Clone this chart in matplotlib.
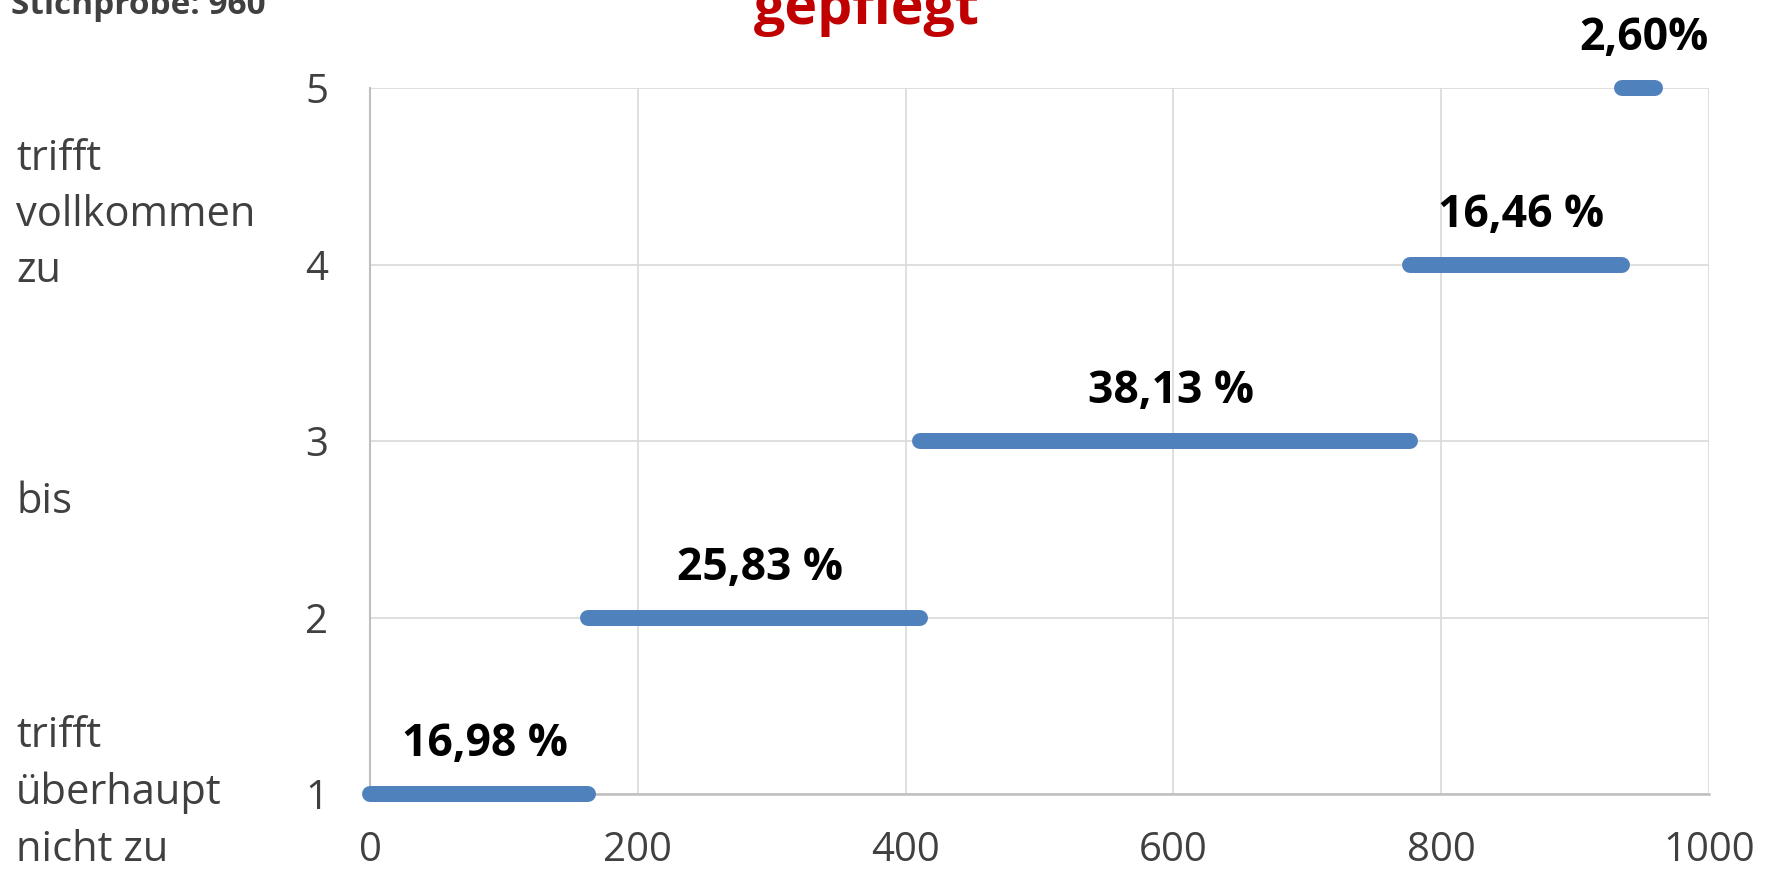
import matplotlib
matplotlib.use("Agg")
from matplotlib import pyplot as plt
import numpy as np

plt.rcParams['font.family'] = ['Open Sans', 'DejaVu Sans']

# data
n_total = 960
levels = [1, 2, 3, 4, 5]
shares = [16.98, 25.83, 38.13, 16.46, 2.60]
share_labels = ['16,98 %', '25,83 %', '38,13 %', '16,46 %', '2,60%']
counts = [163, 248, 366, 158, 25]
title = 'gepflegt'

starts = np.concatenate(([0], np.cumsum(counts)[:-1]))
ends = np.cumsum(counts)

W, H = 1776, 873
fig = plt.figure(figsize=(W / 100, H / 100), dpi=100)
ax = fig.add_axes([370 / W, 79 / H, (1709 - 370) / W, (794 - 88) / H])

grid_col = '#D9D9D9'
txt_col = '#404040'
line_col = '#4F81BD'

for s, e, lv, lab in zip(starts, ends, levels, share_labels):
    ax.plot([s, e], [lv, lv], color=line_col, lw=11.5, solid_capstyle='round', zorder=3, clip_on=False)
    ax.text((s + e) / 2 + 4, lv + 0.28, lab, ha='center', va='center', fontsize=32,
            fontweight='bold', color='black')

ax.set_xlim(0, 1000)
ax.set_ylim(1, 5)
ax.set_xticks([0, 200, 400, 600, 800, 1000])
ax.set_yticks(levels)
ax.grid(True, color=grid_col, lw=1.2)
ax.set_axisbelow(True)
for sp in ['top', 'right']:
    ax.spines[sp].set_visible(False)
ax.spines['left'].set_color('#BFBFBF')
ax.spines['bottom'].set_color('#BFBFBF')
ax.spines['left'].set_linewidth(1.5)
ax.spines['bottom'].set_linewidth(1.8)
ax.tick_params(length=0, labelsize=29, colors=txt_col)
ax.tick_params(axis='y', pad=30)
ax.tick_params(axis='x', pad=26)

fig.text(867 / W, 1 - 24 / H, title, ha='center', va='baseline', fontsize=40,
         fontweight='bold', color='#C00000')
fig.text(11 / W, 1 - 14 / H, 'Stichprobe: 960', ha='left', va='baseline', fontsize=24,
         fontweight='bold', color=txt_col)

fig.text(16 / W, 1 - 215 / H, 'trifft\nvollkommen\nzu', ha='left', va='center', fontsize=30,
         color=txt_col, linespacing=1.45)
fig.text(16 / W, 1 - 502 / H, 'bis', ha='left', va='center', fontsize=30, color=txt_col)
fig.text(16 / W, 1 - 793 / H, 'trifft\nüberhaupt\nnicht zu', ha='left', va='center', fontsize=30,
         color=txt_col, linespacing=1.45)

fig.savefig('out.png', dpi=100)
